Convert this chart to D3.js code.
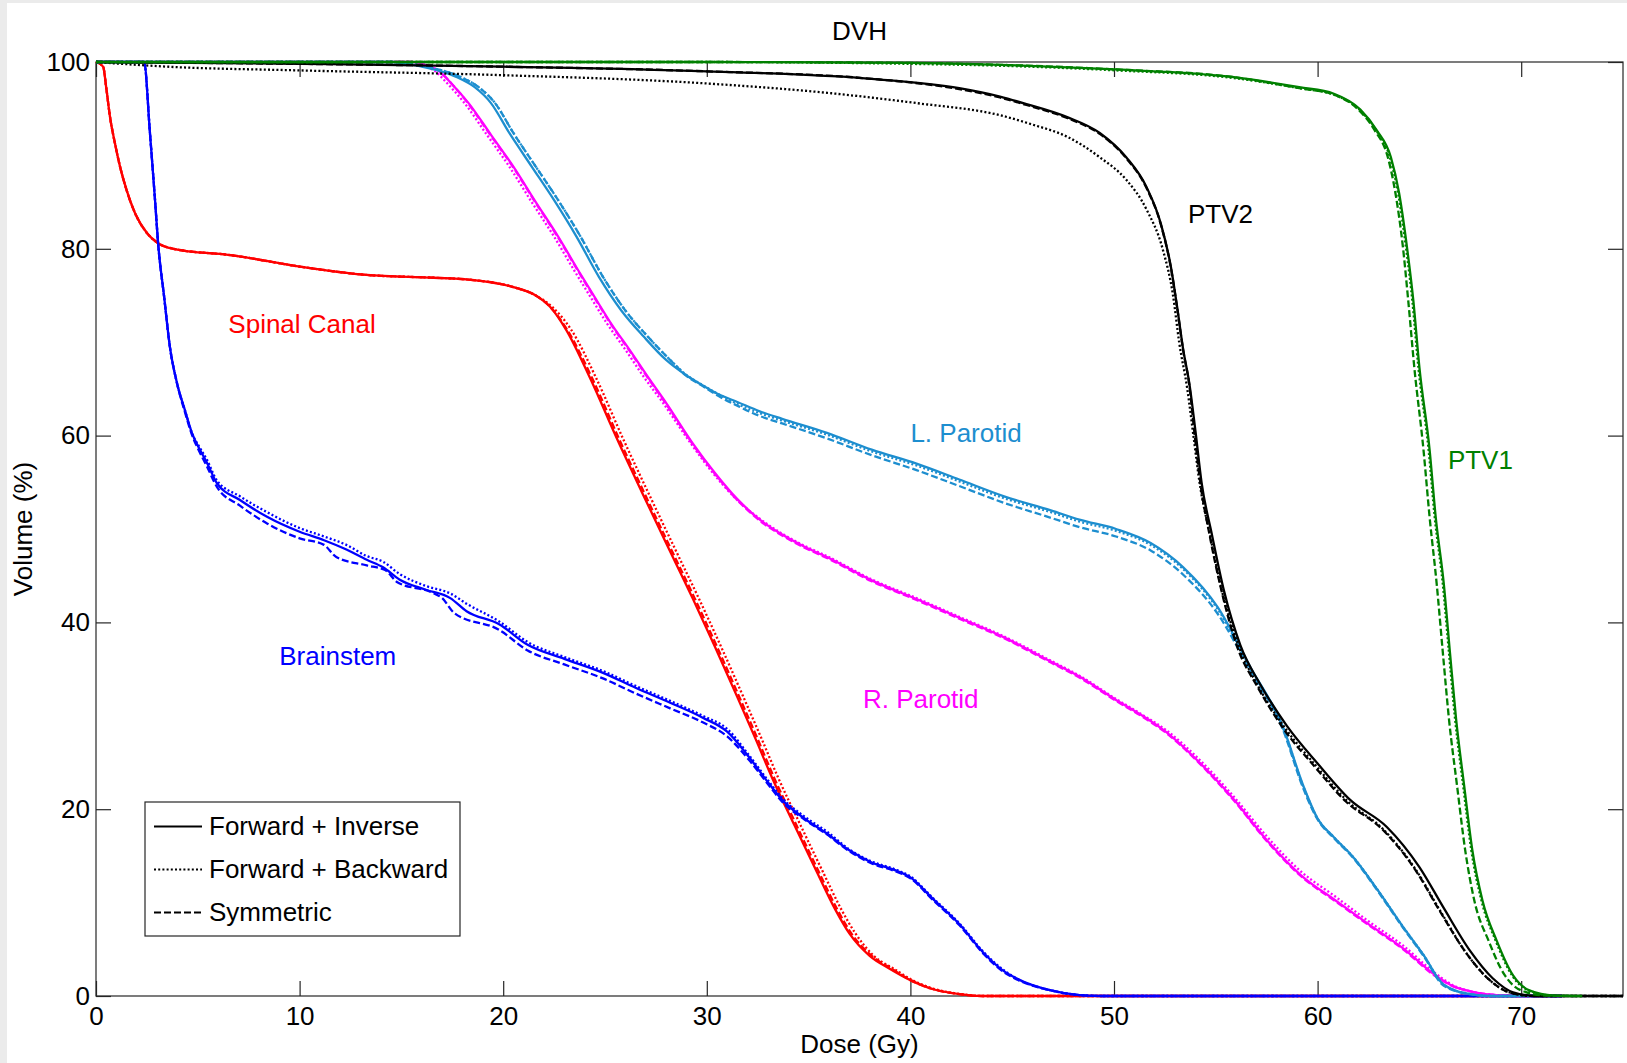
<!DOCTYPE html>
<html>
<head>
<meta charset="utf-8">
<title>DVH</title>
<script src="https://d3js.org/d3.v7.min.js"></script>
<style>
  body { margin: 0; background: #ebebeb; }
  svg { display: block; font-family: "Liberation Sans", Arial, sans-serif; }
</style>
</head>
<body>
<div id="chart"></div>
<script>
// dose (Gy), volume (%)
// FI = Forward + Inverse (solid), FB = Forward + Backward (dotted), SYM = Symmetric (dashed)

var brainstemFI = [[0,100],[2.36,100],[2.65,92.4],[2.9,85.2],[3.05,80.6],[3.35,74.8],[3.63,69.5],[3.98,65.6],[4.37,62.7],[4.71,60.3],[5.1,58.5],[5.45,57.1],[5.94,54.9],[7.07,53.1],[8.4,51.3],[10,49.7],[11.2,48.8],[12.3,47.8],[13.3,46.7],[14.1,45.9],[14.9,44.6],[16.2,43.5],[17.4,42.6],[18.2,41.2],[19.8,39.8],[21.2,37.6],[23,36.1],[24.9,34.6],[26.5,33],[28.2,31.4],[29.8,29.8],[31,28.3],[32.1,25.5],[33,22.9],[33.7,21],[34.8,19],[35.9,17.4],[37,15.6],[38.1,14.3],[39.2,13.5],[40,12.7],[41.1,10.4],[42.4,7.7],[43.6,4.6],[44.5,2.8],[45.2,1.9],[46.9,0.6],[48.3,0.1],[49.5,0],[72,0]];
var brainstemFB = [[0,100],[2.36,100],[2.65,92.4],[2.9,85.2],[3.05,80.6],[3.35,74.8],[3.63,69.5],[3.98,65.6],[4.37,62.7],[4.71,60.3],[5.1,58.7],[5.45,57.4],[5.94,55.2],[7.07,53.5],[8.4,51.8],[10,50.1],[11.2,49.2],[12.3,48.3],[13.3,47.1],[14.1,46.5],[14.9,45.2],[16.2,43.9],[17.4,43.1],[18.2,42],[19.8,40.1],[21.2,37.9],[23,36.3],[24.9,34.8],[26.5,33.2],[28.2,31.6],[29.8,30],[31,28.6],[32.1,25.7],[33,23.1],[33.7,21.2],[34.8,19.2],[35.9,17.6],[37,15.7],[38.1,14.4],[39.2,13.6],[40,12.8],[41.1,10.5],[42.4,7.8],[43.6,4.7],[44.5,2.9],[45.2,1.9],[46.9,0.6],[48.3,0.1],[49.5,0],[72,0]];
var brainstemSYM = [[0,100],[2.36,100],[2.65,92.4],[2.9,85.2],[3.05,80.6],[3.35,74.8],[3.63,69.5],[3.98,65.6],[4.37,62.5],[4.71,60.1],[5.1,58.2],[5.45,56.7],[5.94,54.5],[7.07,52.5],[8.4,50.6],[10,49],[11.2,48.3],[11.8,47],[13.3,46.1],[14.2,45.6],[14.8,44.3],[16.5,43.2],[17,42.6],[17.6,41],[19.8,39.2],[21.2,37],[23,35.5],[24.9,34],[26.5,32.4],[28.2,30.8],[29.8,29.3],[31,27.8],[32.1,25.2],[33,22.7],[33.7,20.8],[34.8,18.9],[35.9,17.3],[37,15.5],[38.1,14.2],[39.2,13.4],[40,12.6],[41.1,10.3],[42.4,7.6],[43.6,4.5],[44.5,2.7],[45.2,1.8],[46.9,0.6],[48.3,0.1],[49.5,0],[72,0]];

var spinalFI = [[0,100],[0.35,99.5],[0.5,97.3],[0.69,94.1],[0.93,91.3],[1.18,88.8],[1.5,86.3],[1.92,83.8],[2.5,81.7],[3.05,80.6],[3.8,80],[6.7,79.3],[10,78.1],[13.3,77.2],[16.6,76.9],[18.3,76.7],[20.5,75.9],[21.6,75],[22.3,73.8],[23.1,71.3],[24.3,66],[25.6,59.6],[26.8,54],[28,48.5],[29.3,42.6],[30.4,37.4],[31.5,32],[32.4,27.5],[33.2,23.4],[34.3,18.3],[35.4,13.3],[36.3,9.3],[37,6.7],[38,4.3],[39,2.9],[40,1.7],[41,0.8],[42.4,0.2],[43.5,0],[72,0]];
var spinalFB = [[0,100],[0.35,99.5],[0.5,97.3],[0.69,94.1],[0.93,91.3],[1.18,88.8],[1.5,86.3],[1.92,83.8],[2.5,81.7],[3.05,80.6],[3.8,80],[6.7,79.3],[10,78.1],[13.3,77.2],[16.6,76.9],[18.3,76.7],[20.5,75.9],[21.6,75],[22.4,73.8],[23.35,71.3],[24.6,66],[25.9,59.6],[27.1,54],[28.3,48.5],[29.6,42.6],[30.7,37.4],[31.8,32],[32.7,27.5],[33.5,23.4],[34.6,18.3],[35.7,13.3],[36.6,9.3],[37.3,6.7],[38.2,4.3],[39.2,2.9],[40.1,1.7],[41.1,0.8],[42.5,0.2],[43.6,0],[72,0]];
var spinalSYM = [[0,100],[0.35,99.5],[0.5,97.3],[0.69,94.1],[0.93,91.3],[1.18,88.8],[1.5,86.3],[1.92,83.8],[2.5,81.7],[3.05,80.6],[3.8,80],[6.7,79.3],[10,78.1],[13.3,77.2],[16.6,76.9],[18.3,76.7],[20.5,75.9],[21.6,75],[22.3,73.8],[23.15,71.3],[24.4,66],[25.7,59.6],[26.9,54],[28.1,48.5],[29.4,42.6],[30.5,37.4],[31.6,32],[32.5,27.5],[33.3,23.4],[34.4,18.3],[35.5,13.3],[36.4,9.3],[37.1,6.7],[38.1,4.3],[39.1,2.9],[40,1.7],[41,0.8],[42.4,0.2],[43.5,0],[72,0]];

var rParotidFI = [[0,100],[15.5,100],[16.3,99.6],[16.8,99.1],[17.5,97.6],[18.3,95.6],[19.4,92.2],[20.5,88.8],[21.6,85],[22.7,81.3],[23.6,78],[24.5,74.8],[25.3,72],[26.2,69.2],[27.1,66.3],[28,63.5],[29.3,59.2],[30.4,56],[31.5,53.2],[32.6,51],[33.7,49.4],[34.8,48.1],[35.9,47],[38.1,44.5],[40.3,42.5],[42.4,40.5],[44.6,38.4],[46.9,35.8],[48.3,34.2],[50.1,31.7],[51.4,30],[52.6,28.2],[54.2,25],[55.9,21],[57.5,16.7],[59.2,12.9],[60.9,10.2],[62.5,7.7],[64.2,5.1],[65.8,2.2],[66.7,1],[67.5,0.5],[69.1,0.05],[70,0],[72,0]];
var rParotidFB = [[0,100],[15.3,100],[16.1,99.6],[16.6,99.1],[17.3,97.6],[18.1,95.6],[19.2,92.2],[20.3,88.8],[21.4,85],[22.5,81.3],[23.4,78],[24.3,74.8],[25.1,72],[26,69.2],[26.9,66.3],[27.85,63.5],[29.2,59.2],[30.3,56],[31.45,53.2],[32.6,51.1],[33.7,49.5],[34.8,48.2],[35.9,47.1],[38.1,44.6],[40.3,42.6],[42.4,40.6],[44.6,38.5],[46.9,35.9],[48.3,34.3],[50.1,31.8],[51.4,30.1],[52.6,28.4],[54.2,25.3],[55.9,21.3],[57.5,17.1],[59.2,13.3],[60.9,10.6],[62.5,8],[64.2,5.4],[65.8,2.4],[66.7,1.1],[67.5,0.5],[69.1,0.05],[70,0],[72,0]];
var rParotidSYM = [[0,100],[15.5,100],[16.3,99.6],[16.8,99.1],[17.5,97.6],[18.3,95.5],[19.4,92.1],[20.5,88.7],[21.6,84.9],[22.7,81.2],[23.6,77.9],[24.5,74.7],[25.3,71.9],[26.2,69.1],[27.1,66.2],[28,63.4],[29.3,59.1],[30.4,55.9],[31.5,53.1],[32.6,50.9],[33.7,49.3],[34.8,48],[35.9,46.9],[38.1,44.4],[40.3,42.4],[42.4,40.4],[44.6,38.3],[46.9,35.7],[48.3,34.1],[50.1,31.6],[51.4,29.9],[52.6,28.1],[54.2,24.9],[55.9,20.9],[57.5,16.6],[59.2,12.8],[60.9,10.1],[62.5,7.6],[64.2,5],[65.8,2.1],[66.7,1],[67.5,0.5],[69.1,0.05],[70,0],[72,0]];

var lParotidFI = [[0,100],[14.5,100],[16,99.5],[17.7,98.4],[18.6,97.3],[19.4,95.6],[20.3,92.4],[21.4,88.8],[22.5,85.2],[23.6,81.3],[24.7,77],[25.8,73.4],[26.9,70.6],[28,68.1],[28.9,66.6],[29.7,65.5],[30.5,64.5],[31.5,63.6],[32.6,62.6],[33.7,61.8],[35.9,60.3],[38.1,58.5],[40.3,57],[42.4,55.3],[44.6,53.5],[46.9,52],[48.3,51],[50.1,50],[51.8,48.5],[53.4,45.9],[55.1,41.6],[56.7,35.2],[58.3,28.8],[59.3,22.5],[60,19],[60.8,17],[61.7,15],[63,11.2],[64.1,7.7],[65.2,4.4],[66.2,1.2],[67.5,0.2],[68.5,0],[72,0]];
var lParotidFB = [[0,100],[14.5,100],[16.2,99.5],[17.9,98.4],[18.8,97.3],[19.6,95.6],[20.5,92.4],[21.6,88.8],[22.7,85.2],[23.8,81.3],[24.9,77],[26,73.4],[27.1,70.6],[28.2,68.1],[29,66.5],[29.8,65.4],[30.6,64.4],[31.5,63.4],[32.6,62.4],[33.7,61.6],[35.9,60.1],[38.1,58.3],[40.3,56.8],[42.4,55.1],[44.6,53.3],[46.9,51.8],[48.3,50.8],[50.1,49.8],[51.8,48.3],[53.4,45.7],[55.1,41.4],[56.7,35.1],[58.3,28.7],[59.3,22.4],[60,19],[60.8,17],[61.7,15],[63,11.2],[64.1,7.7],[65.2,4.4],[66.2,1.2],[67.5,0.2],[68.5,0],[72,0]];
var lParotidSYM = [[0,100],[14.5,100],[16.2,99.5],[17.9,98.4],[18.8,97.3],[19.6,95.6],[20.5,92.4],[21.6,88.8],[22.7,85.2],[23.8,81.3],[24.9,77],[26,73.4],[27.1,70.6],[28.2,68.1],[29,66.4],[29.8,65.3],[30.6,64.2],[31.5,63.2],[32.6,62.1],[33.7,61.3],[35.9,59.7],[38.1,57.9],[40.3,56.3],[42.4,54.6],[44.6,52.8],[46.9,51.2],[48.3,50.2],[50.1,49.2],[51.8,47.7],[53.4,45.1],[55.1,40.9],[56.7,34.8],[58.3,28.5],[59.3,22.2],[60,18.9],[60.8,16.9],[61.7,14.9],[63,11.1],[64.1,7.6],[65.2,4.3],[66.2,1.1],[67.5,0.2],[68.5,0],[72,0]];

var ptv2FI = [[0,100],[10,99.8],[14,99.7],[20,99.5],[30,99],[38.1,98.2],[42.4,97.2],[44.4,96.3],[45.7,95.5],[47.7,94.1],[49.3,92.4],[50.6,89.8],[51.6,86.6],[52.3,82.7],[52.8,78],[53.1,73.8],[53.4,69.2],[53.7,65.6],[54,60.5],[54.3,55],[54.8,49.5],[55.4,43.4],[56.2,37.6],[57.2,33.3],[58.5,28.9],[60,24.9],[61.6,21],[63.4,18.1],[65,13.8],[66.2,9.4],[67.5,4.8],[68.6,1.9],[69.6,0.4],[70.8,0],[75,0]];
var ptv2FB = [[0,100],[3.5,99.5],[10,99.1],[19.8,98.6],[30,97.7],[35.9,96.7],[40.3,95.6],[44.4,94.3],[46,93.3],[47.7,92],[49.3,89.8],[50.6,87.4],[51.6,84.2],[52.4,79.9],[52.9,75],[53.2,70],[53.6,65],[53.9,60],[54.2,55],[54.7,49.5],[55.3,43.4],[56.1,37.6],[57.1,33.1],[58.4,28.7],[59.9,24.7],[61.5,20.8],[63.2,17.9],[64.8,13.6],[66,9.2],[67.3,4.6],[68.4,1.8],[69.4,0.4],[70.6,0],[75,0]];
var ptv2SYM = [[0,100],[10,99.8],[14,99.7],[20,99.5],[30,99],[38.1,98.2],[42.4,97.1],[44.4,96.2],[45.7,95.4],[47.7,94],[49.3,92.3],[50.6,89.7],[51.6,86.5],[52.3,82.6],[52.8,77.9],[53.1,73.7],[53.4,69.1],[53.7,65.4],[53.95,60.3],[54.25,54.8],[54.7,49.3],[55.3,43.2],[56.05,37.4],[57.05,33.1],[58.3,28.7],[59.8,24.7],[61.4,20.8],[63.2,17.8],[64.8,13.5],[66,9.1],[67.3,4.6],[68.4,1.8],[69.4,0.4],[70.6,0],[75,0]];

var ptv1FI = [[0,100],[30,100],[40,99.9],[44.4,99.7],[50.1,99.2],[55.8,98.4],[59.1,97.3],[60.8,96.6],[62.1,94.9],[62.9,92.7],[63.6,89.8],[64,86],[64.4,80],[64.7,74.5],[65,67.3],[65.5,58.5],[65.8,51.3],[66.2,44.1],[66.5,36.8],[66.8,29.7],[67.2,22.5],[67.6,15.6],[68.1,10.2],[68.8,5.9],[69.6,2.2],[70.4,0.6],[71.6,0.05],[73,0]];
var ptv1FB = [[0,100],[30,100],[40,99.8],[44.4,99.6],[50.1,99.1],[55.8,98.3],[59.1,97.2],[60.8,96.5],[62.1,94.8],[62.9,92.6],[63.55,89.8],[63.95,86],[64.35,80],[64.65,74.5],[64.95,67.3],[65.45,58.5],[65.75,51.3],[66.15,44.1],[66.45,36.8],[66.75,29.7],[67.15,22.5],[67.55,15.6],[68.05,10.2],[68.75,5.9],[69.55,2.2],[70.35,0.6],[71.6,0.05],[73,0]];
var ptv1SYM = [[0,100],[30,100],[40,99.9],[44.4,99.7],[50.1,99.2],[55.8,98.4],[59.1,97.2],[60.8,96.5],[62,94.9],[62.8,92.7],[63.45,89.8],[63.82,86],[64.2,80],[64.45,74.5],[64.75,67.3],[65.2,58.5],[65.5,51.3],[65.85,44.1],[66.15,36.8],[66.45,29.7],[66.85,22.5],[67.25,15.6],[67.7,10.2],[68.4,5.9],[69.2,2.2],[70,0.6],[71.2,0.05],[72.5,0]];

var xTicks = [0, 10, 20, 30, 40, 50, 60, 70];
var yTicks = [0, 20, 40, 60, 80, 100];
var legendNames = ["Forward + Inverse", "Forward + Backward", "Symmetric"];

// structure name, colour, series, label position (dose, volume)
var structures = [
  {name: "Spinal Canal", color: "#ff0000", series: [spinalFI, spinalFB, spinalSYM], lx: 6.5, ly: 71},
  {name: "Brainstem", color: "#0000ff", series: [brainstemFI, brainstemFB, brainstemSYM], lx: 9.0, ly: 35.4},
  {name: "R. Parotid", color: "#ff00ff", series: [rParotidFI, rParotidFB, rParotidSYM], lx: 37.67, ly: 30.8},
  {name: "L. Parotid", color: "#1d8ecf", series: [lParotidFI, lParotidFB, lParotidSYM], lx: 40.0, ly: 59.3},
  {name: "PTV2", color: "#000000", series: [ptv2FI, ptv2FB, ptv2SYM], lx: 53.63, ly: 82.8},
  {name: "PTV1", color: "#008000", series: [ptv1FI, ptv1FB, ptv1SYM], lx: 66.4, ly: 56.4}
];
var dashes = [null, "2,2.2", "7,3"];

var W = 1627, H = 1063;
var svg = d3.select("#chart").append("svg")
    .attr("width", W)
    .attr("height", H);

// figure background (grey strip on top / left)
svg.append("rect").attr("width", W).attr("height", H).attr("fill", "#ebebeb");
svg.append("rect").attr("x", 7).attr("y", 3).attr("width", W - 7).attr("height", H - 3).attr("fill", "#fff");

var x = d3.scaleLinear().domain([0, 75]).range([96, 1623]);
var y = d3.scaleLinear().domain([0, 100]).range([996, 62]);

var axisColor = "#262626";
var fontSize = 26;

function styleAxis(g) {
  g.select(".domain").remove();
  g.selectAll("line").attr("stroke", axisColor).attr("stroke-width", 1.2);
  g.selectAll("text").attr("fill", "#000").style("font-size", fontSize + "px")
    .style("font-family", '"Liberation Sans", Arial, sans-serif');
}

svg.append("g")
    .attr("transform", "translate(0," + y(0) + ")")
    .call(d3.axisBottom(x).tickValues(xTicks).tickSizeInner(-15).tickSizeOuter(0).tickPadding(11))
    .call(styleAxis);
svg.append("g")
    .attr("transform", "translate(0," + y(100) + ")")
    .call(d3.axisTop(x).tickValues(xTicks).tickSizeInner(-15).tickSizeOuter(0).tickFormat(""))
    .call(styleAxis);
svg.append("g")
    .attr("transform", "translate(" + x(0) + ",0)")
    .call(d3.axisLeft(y).tickValues(yTicks).tickSizeInner(-15).tickSizeOuter(0).tickPadding(6))
    .call(styleAxis);
svg.append("g")
    .attr("transform", "translate(" + x(75) + ",0)")
    .call(d3.axisRight(y).tickValues(yTicks).tickSizeInner(-15).tickSizeOuter(0).tickFormat(""))
    .call(styleAxis);

// axes box
svg.append("rect")
    .attr("x", x(0)).attr("y", y(100))
    .attr("width", x(75) - x(0)).attr("height", y(0) - y(100))
    .attr("fill", "none").attr("stroke", axisColor).attr("stroke-width", 1.2);

var line = d3.line()
    .x(function(d) { return x(d[0]); })
    .y(function(d) { return y(d[1]); })
    .curve(d3.curveMonotoneX);

structures.forEach(function(s) {
  s.series.forEach(function(data, i) {
    svg.append("path")
      .datum(data)
      .attr("fill", "none")
      .attr("stroke", s.color)
      .attr("stroke-width", 2.3)
      .attr("stroke-dasharray", dashes[i])
      .attr("d", line);
  });
  svg.append("text")
    .attr("x", x(s.lx))
    .attr("y", y(s.ly))
    .attr("fill", s.color)
    .style("font-size", fontSize + "px")
    .text(s.name);
});

// titles
svg.append("text")
    .attr("x", (x(0) + x(75)) / 2).attr("y", 40)
    .attr("text-anchor", "middle")
    .style("font-size", fontSize + "px")
    .text("DVH");
svg.append("text")
    .attr("x", (x(0) + x(75)) / 2).attr("y", 1053)
    .attr("text-anchor", "middle")
    .style("font-size", fontSize + "px")
    .text("Dose (Gy)");
svg.append("text")
    .attr("transform", "translate(32," + (y(0) + y(100)) / 2 + ")rotate(-90)")
    .attr("text-anchor", "middle")
    .style("font-size", fontSize + "px")
    .text("Volume (%)");

// legend
var legend = svg.append("g").attr("transform", "translate(145,802)");
legend.append("rect")
    .attr("width", 315).attr("height", 134)
    .attr("fill", "#fff").attr("stroke", axisColor).attr("stroke-width", 1.2);
legendNames.forEach(function(n, i) {
  var by = 33 + i * 43;
  legend.append("line")
    .attr("x1", 9).attr("x2", 57)
    .attr("y1", by - 8.5).attr("y2", by - 8.5)
    .attr("stroke", "#000").attr("stroke-width", 2)
    .attr("stroke-dasharray", dashes[i]);
  legend.append("text")
    .attr("x", 64).attr("y", by)
    .style("font-size", fontSize + "px")
    .text(n);
});
</script>
</body>
</html>
